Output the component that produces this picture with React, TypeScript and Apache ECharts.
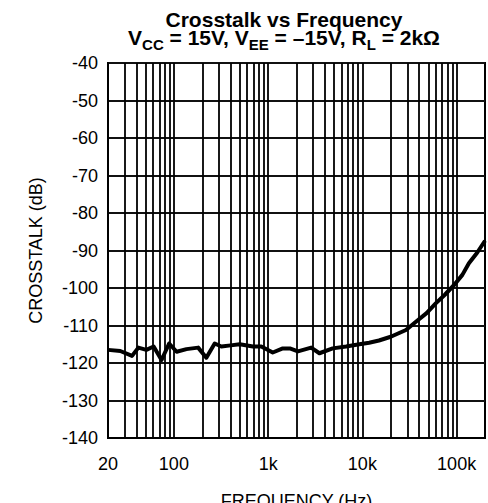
import React, { useEffect, useRef } from "react";
import * as echarts from "echarts";

const FONT = "'Liberation Sans', Arial, Helvetica, sans-serif";

// Frequency (Hz) and crosstalk (dB)
const frequencies = [
  20, 27, 36, 42, 51, 61, 74, 89, 107, 136, 181, 221, 271, 319, 400, 500,
  690, 846, 1120, 1430, 1700, 2070, 2860, 3500, 4840, 6710, 9290, 11800,
  15000, 20000, 29000, 37000, 48000, 60000, 75000, 94000, 115000, 135000,
  165000, 200000,
];
const crosstalk = [
  -116.5, -116.8, -118.1, -115.9, -116.5, -115.6, -119.2, -114.8, -117.0,
  -116.3, -115.9, -118.6, -114.8, -115.6, -115.3, -115.0, -115.6, -115.6,
  -117.2, -116.1, -116.1, -116.9, -115.9, -117.4, -116.1, -115.6, -115.0,
  -114.6, -114.0, -113.0, -111.2, -109.0, -106.7, -104.1, -101.8, -99.2,
  -96.5, -93.4, -90.6, -87.4,
];

// Vertical log grid lines (interior)
const gridFrequencies = [
  30, 40, 50, 60, 70, 80, 90,
  100, 200, 300, 400, 500, 600, 700, 800, 900,
  1000, 2000, 3000, 4000, 5000, 6000, 7000, 8000, 9000,
  10000, 20000, 30000, 40000, 50000, 60000, 70000, 80000, 90000,
  100000,
];

const yMin = -140;
const yMax = -40;
const yStep = 10;
const xMin = 20;
const xMax = 200000;

const titleLine1 = "Crosstalk vs Frequency";
// [text, isSubscript]
const titleLine2: [string, boolean][] = [
  ["V", false],
  ["CC", true],
  [" = 15V, V", false],
  ["EE", true],
  [" = –15V, R", false],
  ["L", true],
  [" = 2kΩ", false],
];

const MAIN_SIZE = 21;
const SUB_SIZE = 15;

function buildTitle(): any[] {
  const canvas = document.createElement("canvas");
  const ctx = canvas.getContext("2d")!;
  const widths = titleLine2.map(([t, sub]) => {
    ctx.font = `bold ${sub ? SUB_SIZE : MAIN_SIZE}px ${FONT}`;
    return ctx.measureText(t).width;
  });
  const total = widths.reduce((a, b) => a + b, 0);
  const cx = 284;
  let x = cx - total / 2;
  const els: any[] = [
    {
      type: "text",
      silent: true,
      style: {
        x: cx,
        y: 19.7,
        text: titleLine1,
        align: "center",
        verticalAlign: "middle",
        font: `bold ${MAIN_SIZE}px ${FONT}`,
        fill: "#000",
      },
    },
  ];
  titleLine2.forEach(([t, sub], i) => {
    els.push({
      type: "text",
      silent: true,
      style: {
        x,
        y: sub ? 50 - 0.3465 * SUB_SIZE : 45 - 0.3465 * MAIN_SIZE,
        text: t,
        align: "left",
        verticalAlign: "middle",
        font: `bold ${sub ? SUB_SIZE : MAIN_SIZE}px ${FONT}`,
        fill: "#000",
      },
    });
    x += widths[i];
  });
  return els;
}

export default function App() {
  const ref = useRef<HTMLDivElement>(null);

  useEffect(() => {
    if (!ref.current) return;
    const chart = echarts.init(ref.current, null, { renderer: "svg" });
    const points = frequencies.map((f, i) => [f, crosstalk[i]]);

    chart.setOption({
      animation: false,
      backgroundColor: "#fff",
      graphic: buildTitle(),
      grid: {
        left: 108,
        right: 3,
        top: 63,
        bottom: 65,
        show: true,
        containLabel: false,
        outerBoundsMode: "none",
        borderColor: "#000",
        borderWidth: 2,
        backgroundColor: "transparent",
      },
      xAxis: {
        type: "log",
        logBase: 10,
        min: xMin,
        max: xMax,
        name: "FREQUENCY (Hz)",
        nameLocation: "middle",
        nameGap: 54,
        nameTextStyle: { fontFamily: FONT, fontSize: 18, color: "#000" },
        axisLine: { show: true, lineStyle: { color: "#000", width: 2 } },
        axisTick: { show: false },
        splitLine: { show: false },
        axisLabel: {
          fontFamily: FONT,
          fontSize: 18,
          color: "#000",
          margin: 17,
          showMaxLabel: false,
          formatter: (v: number) => {
            const r = Math.round(v);
            if (r >= 200000) return "";
            return r >= 1000 ? r / 1000 + "k" : String(r);
          },
        },
      },
      yAxis: {
        type: "value",
        min: yMin,
        max: yMax,
        interval: yStep,
        name: "CROSSTALK (dB)",
        nameLocation: "middle",
        nameGap: 63,
        nameTextStyle: { fontFamily: FONT, fontSize: 18, color: "#000" },
        axisLine: { show: true, lineStyle: { color: "#000", width: 2 } },
        axisTick: { show: false },
        splitLine: { show: true, lineStyle: { color: "#111", width: 2 } },
        axisLabel: {
          fontFamily: FONT,
          fontSize: 18,
          color: "#000",
          margin: 10,
        },
      },
      series: [
        {
          type: "line",
          data: points,
          showSymbol: false,
          symbol: "none",
          lineStyle: { color: "#000", width: 4, join: "round" },
          z: 5,
          markLine: {
            silent: true,
            symbol: ["none", "none"],
            label: { show: false },
            lineStyle: { color: "#000", width: 1.8, type: "solid" },
            data: gridFrequencies.map((f) => ({ xAxis: f })),
            z: 1,
          },
        },
      ],
    });

    return () => chart.dispose();
  }, []);

  return (
    <div
      ref={ref}
      style={{ position: "fixed", left: 0, top: 0, width: 488, height: 503 }}
    />
  );
}
